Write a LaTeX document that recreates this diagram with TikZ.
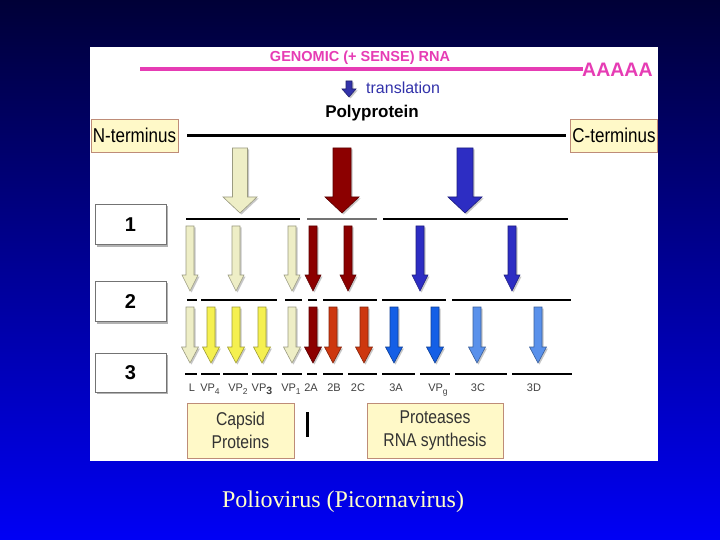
\documentclass[tikz,border=0pt]{standalone}
\usepackage{fontspec}
\usetikzlibrary{calc}
\setmainfont{Liberation Sans}
\newfontfamily\narrowfont[FakeStretch=0.85]{Liberation Sans}
\newfontfamily\capfont{Liberation Serif}
\definecolor{bgtop}{RGB}{0,0,55}
\definecolor{bgmid}{RGB}{14,14,170}
\definecolor{bgbot}{RGB}{0,0,245}
\definecolor{rnapink}{RGB}{230,60,180}
\definecolor{transblue}{RGB}{50,50,170}
\definecolor{creamA}{RGB}{238,238,198}
\definecolor{yellowA}{RGB}{245,240,80}
\definecolor{dredA}{RGB}{140,0,0}
\definecolor{ored}{RGB}{205,55,15}
\definecolor{dblueA}{RGB}{45,45,195}
\definecolor{blueA}{RGB}{20,95,230}
\definecolor{lblueA}{RGB}{90,145,235}
\definecolor{boxyellow}{RGB}{255,249,200}
\definecolor{boxedge}{RGB}{190,140,120}
\definecolor{capyellow}{RGB}{255,255,200}
\newcommand\blockarr[7]{%
  \fill[black!22] ({#1-#5/2+1.5},{#2+1.5}) -- ({#1+#5/2+1.5},{#2+1.5}) -- ({#1+#5/2+1.5},{#3+1.5}) -- ({#1+#6/2+1.5},{#3+1.5}) -- ({#1+1.5},{#4+1.5}) -- ({#1-#6/2+1.5},{#3+1.5}) -- ({#1-#5/2+1.5},{#3+1.5}) -- cycle;
  \filldraw[fill=#7, draw=#7!65!black, line width=0.6pt, line join=miter] ({#1-#5/2},#2) -- ({#1+#5/2},#2) -- ({#1+#5/2},#3) -- ({#1+#6/2},#3) -- (#1,#4) -- ({#1-#6/2},#3) -- ({#1-#5/2},#3) -- cycle;}
\newcommand\lsub[1]{\raisebox{-3.5pt}{\fontsize{8.5}{9}\selectfont #1}}
\begin{document}
\begin{tikzpicture}[x=1pt,y=-1pt,
  numbox/.style={draw=black!55, fill=white, line width=0.8pt, minimum width=71pt, minimum height=40pt, inner sep=0pt, font=\fontsize{20}{22}\selectfont\bfseries},
  termbox/.style={draw=boxedge, fill=boxyellow, line width=0.7pt, minimum width=87pt, minimum height=33pt, inner sep=0pt, font=\narrowfont\fontsize{20}{22}\selectfont},
  infobox/.style={draw=boxedge, fill=boxyellow, line width=0.8pt, minimum height=55pt, inner sep=0pt, align=center, text=black!80, font=\narrowfont\fontsize{18.5}{23}\selectfont},
  seg/.style={line width=2.6pt, black},
  lab/.style={font=\fontsize{11}{12}\selectfont, text=black!75, inner sep=0pt, anchor=base}]
\useasboundingbox (0,0) rectangle (720,540);
\shade[top color=bgtop, middle color=bgmid, bottom color=bgbot] (0,0) rectangle (720,540);
\fill[white] (90,47) rectangle (658,461);

% RNA
\draw[rnapink, line width=3.5pt] (140,69) -- (583,69);
\node[text=rnapink, font=\fontsize{14.5}{16}\selectfont\bfseries, inner sep=0pt] (genomic) at (360,58) {GENOMIC (+ SENSE) RNA};
\node[text=rnapink, font=\fontsize{19.5}{21}\selectfont\bfseries, inner sep=0pt, anchor=west] (polyA) at (582,70) {AAAAA};
\blockarr{349}{81}{89}{97}{6}{14}{transblue}
\node[text=transblue, font=\fontsize{16}{18}\selectfont, inner sep=0pt, anchor=west] (transl) at (366,88) {translation};
\node[font=\fontsize{17}{18}\selectfont\bfseries, inner sep=0pt] (poly) at (372,113) {Polyprotein};

% termini and polyprotein line
\node[termbox] (nterm) at (134.5,135.5) {N-terminus};
\node[termbox] (cterm) at (614,135.5) {C-terminus};
\draw[line width=2.5pt] ($(nterm.east)+(9,0)$) coordinate (pl1) -- ($(cterm.west)+(-4,0)$) coordinate (pl2);

% big arrows
\blockarr{240}{148}{197}{213}{15}{34}{creamA}
\blockarr{342}{148}{197}{213}{18}{34}{dredA}
\blockarr{465}{148}{197}{213}{16}{34}{dblueA}

% number boxes
\fill[black!30] (97,206) rectangle (168,247);
\node[numbox] (b1) at (130.5,224.5) {1};
\fill[black!30] (97,283) rectangle (168,324);
\node[numbox] (b2) at (130.5,301.5) {2};
\fill[black!30] (97,355) rectangle (168,394);
\node[numbox, minimum height=39pt] (b3) at (130.5,372.5) {3};

% row 1 lines
\draw[seg] (186,219) -- (300,219);
\draw[seg, black!55] (307,219) -- (377,219);
\draw[seg] (383,219) -- (568,219);

% row 1 -> 2 arrows
\foreach \xx/\cc in {190/creamA,236/creamA,292/creamA,313/dredA,348/dredA,420/dblueA,512/dblueA}
  \blockarr{\xx}{226}{275}{291}{8}{16}{\cc};

% row 2 lines
\foreach \a/\b in {187/197,201/277,285/302,308/317,323/377,382/446,452/571}
  \draw[seg] (\a,300) -- (\b,300);

% row 2 -> 3 arrows
\foreach \xx/\cc in {190/creamA,211/yellowA,236/yellowA,262/yellowA,292/creamA,313/dredA,333/ored,364/ored,394/blueA,435/blueA,477/lblueA,538/lblueA}
  \blockarr{\xx}{307}{347}{363}{8}{17}{\cc};

% row 3 lines
\foreach \a/\b in {185/197,201/220,223/248,252/277,282/302,307/317,323/343,348/377,382/415,420/450,455/507,512/572}
  \draw[seg] (\a,374) -- (\b,374);

% labels
\node[lab] (lL) at (192,391) {L};
\node[lab] (lVP4) at (210,391) {VP\lsub{4}};
\node[lab] (lVP2) at (238,391) {VP\lsub{2}};
\node[lab] (lVP3) at (262,391) {VP\lsub{\bfseries\fontsize{10.5}{11}\selectfont 3}};
\node[lab] (lVP1) at (291,391) {VP\lsub{1}};
\node[lab] (l2A) at (311,391) {2A};
\node[lab] (l2B) at (334,391) {2B};
\node[lab] (l2C) at (358,391) {2C};
\node[lab] (l3A) at (396,391) {3A};
\node[lab] (lVPg) at (438,391) {VP\lsub{g}};
\node[lab] (l3C) at (478,391) {3C};
\node[lab] (l3D) at (534,391) {3D};

% bottom boxes
\node[infobox, minimum width=107pt] (capsid) at (240.5,430.5) {Capsid\\Proteins};
\draw[line width=3pt] (307,412) -- (307,437);
\node[infobox, minimum width=136pt] (prot) at (435,430.5) {Proteases\\RNA synthesis};

% caption
\node[text=capyellow, font=\capfont\fontsize{24}{26}\selectfont, inner sep=0pt] (cap) at (343,502) {Poliovirus (Picornavirus)};
\end{tikzpicture}
\end{document}
